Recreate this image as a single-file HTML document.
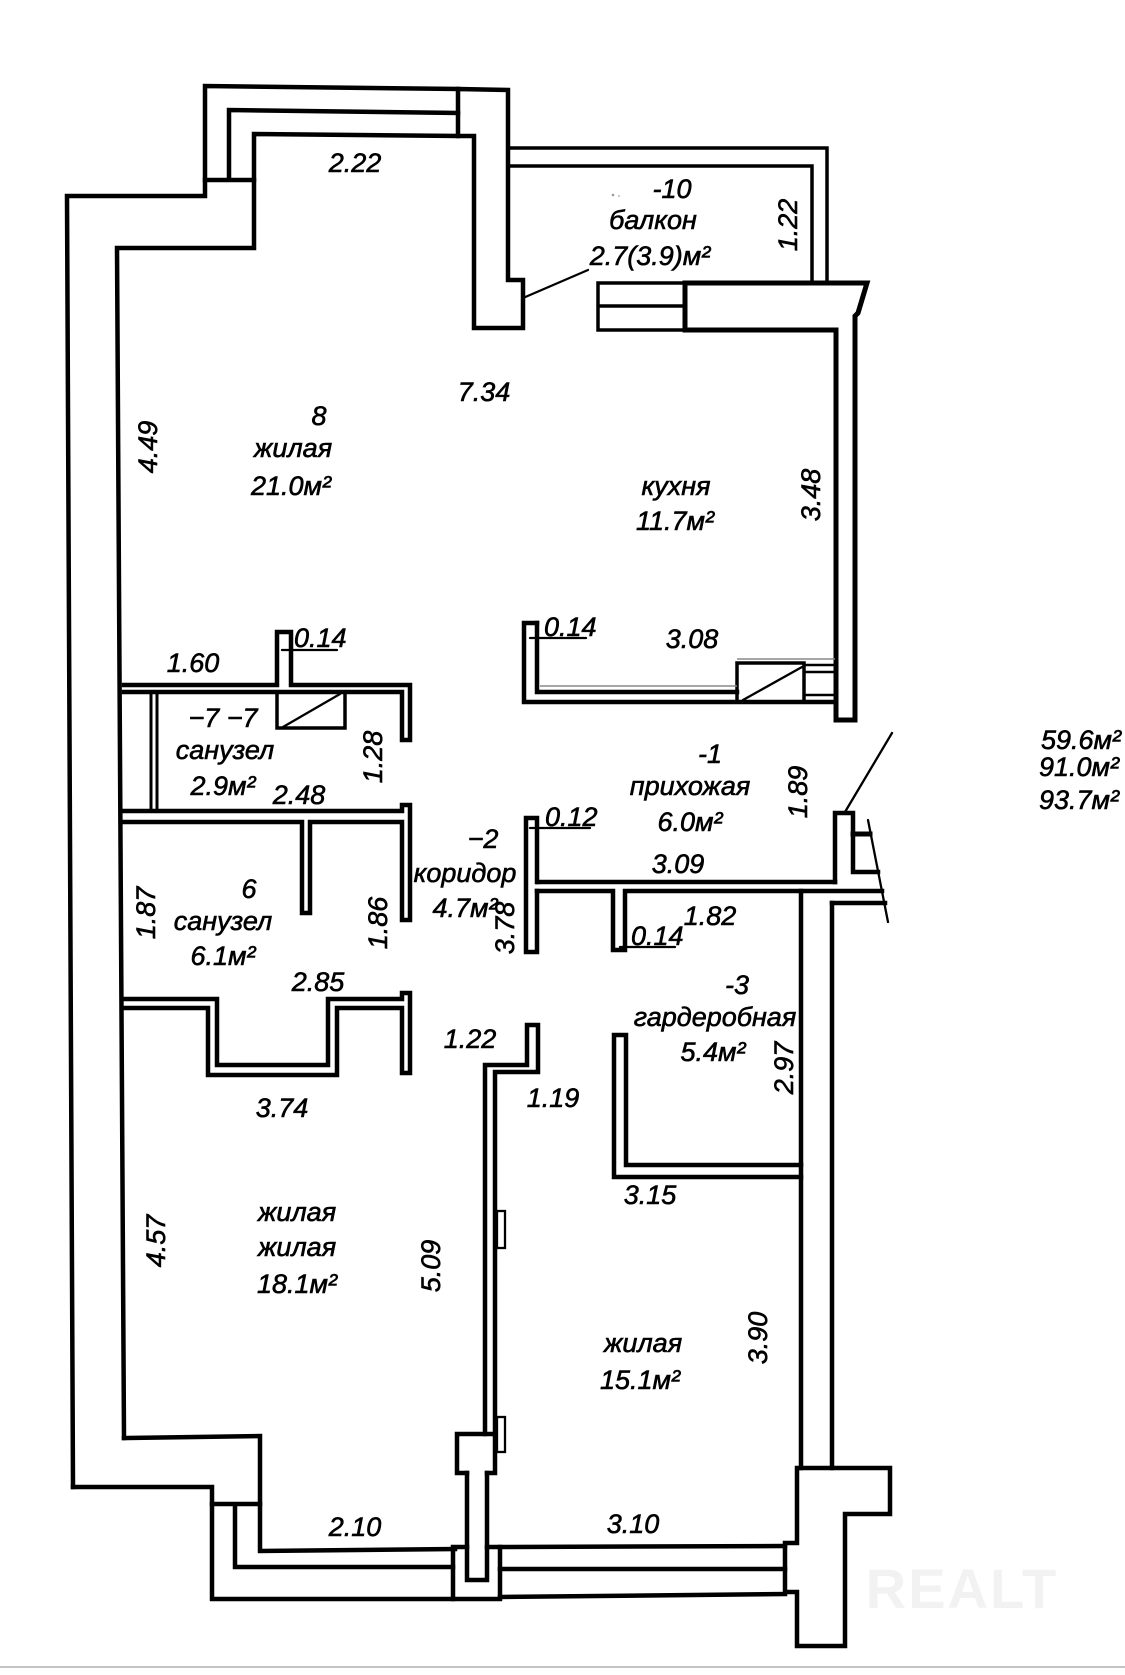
<!DOCTYPE html>
<html><head><meta charset="utf-8"><style>
html,body{margin:0;padding:0;background:#fff;}
svg{display:block;}
text{font-family:"Liberation Sans","DejaVu Sans",sans-serif;font-style:italic;font-size:27px;fill:#000;stroke:#000;stroke-width:0.6px;}
</style></head><body>
<svg width="1125" height="1675" viewBox="0 0 1125 1675" xmlns="http://www.w3.org/2000/svg">
<rect width="1125" height="1675" fill="#fff"/>
<text x="962" y="1608" text-anchor="middle" style="font-style:normal;font-size:56px;font-weight:bold;fill:#f2f2f2;stroke:none;letter-spacing:2px">REALT</text>
<line x1="0" y1="1667" x2="1125" y2="1667" stroke="#b0b0b0" stroke-width="1.5"/>
<g fill="none" stroke="#000" stroke-width="4.5" stroke-linejoin="miter" stroke-linecap="square">
<path d="M73,1487 L67,196 L205,196 L205,86 L458,89"/>
<path d="M458,89 L508,90 L508,280 L523,280 L523,328 L474,328 L474,136 L458,136 Z"/>
<path d="M205,180 L254,180 M229,180 L229,110 L458,113"/>
<path d="M124,1438 L117,248 L254,248 L254,134 L458,136"/>
<path d="M124,1438 L260,1436 L260,1551 L455,1549"/>
<path d="M73,1487 L212,1487 L212,1599 L453,1599"/>
<path d="M212,1504 L260,1504 M235,1504 L235,1567 L453,1567"/>
<path d="M467,1547 L453,1547 L453,1599 L500,1599 L500,1547 L487,1547"/>
<path d="M467,1473 L467,1580 L487,1580 L487,1473"/>
<path d="M467,1473 L457,1473 L457,1434 L495,1434 L495,1473 L487,1473"/>
<path d="M485,1434 L485,1065 L527,1065 L527,1025 L538,1025 L538,1072 L495,1072 L495,1434"/>
<path d="M500,1547 L785,1546 M500,1569 L785,1569 M500,1597 L785,1594"/>
<path d="M797,1468 L890,1468 L890,1514 L845,1514 L845,1646 L797,1646 L797,1592 L785,1592 L785,1543 L797,1543 Z"/>
<path d="M801,891 L801,1468 M832,903 L832,1468"/>
<path d="M626,1035 L614,1035 L614,1177 L801,1177 M626,1035 L626,1165 L801,1165"/>
<path d="M538,882 L835,882"/>
<path d="M537,891 L613,891 L613,950 L625,950 L625,891 L882,891"/>
<path d="M832,903 L885,903"/>
<path d="M537,882 L537,818 L526,818 L526,952 L537,952 L537,891"/>
<path d="M835,882 L835,813 L853,813 L853,872 L878,872"/>
<path d="M853,834 L870,834" stroke-width="5"/>
<path d="M836,330 L836,720 L855,720 L855,316 L858,313 L867,283 L685,283" stroke-width="5"/>
<path d="M685,330 L836,330 M685,283 L685,330" stroke-width="5"/>
<path d="M598,283 L685,283 L685,330 L598,330 Z M598,306 L685,306" stroke-width="3.5"/>
<path d="M508,148 L827,148 L827,282 M508,166 L812,166 L812,282" stroke-width="3.5"/>
<path d="M537,623 L524,623 L524,702 L835,702"/>
<path d="M537,623 L537,692 L737,692"/>
<path d="M737,702 L737,663 L804,663 L804,702" stroke-width="3.5"/>
<path d="M804,665 L835,665 M804,672 L835,672 M804,695 L835,695" stroke-width="2.5"/>
<path d="M124,685 L277,685 L277,632 L291,632 L291,685 L410,685 L410,740 L402,740 L402,692 L124,692"/>
<path d="M277,692 L345,692 L345,728 L277,728 Z" stroke-width="3.5"/>
<path d="M151,692 L151,811 M157,692 L157,811" stroke-width="3"/>
<path d="M124,811 L402,811 L402,805 L410,805 L410,920 L402,920 L402,822 L310,822 L310,913 L302,913 L302,822 L124,822"/>
<path d="M124,999 L217,999 L217,1065 L328,1065 L328,999 L402,999 L402,993 L410,993 L410,1073 L402,1073 L402,1008 L337,1008 L337,1075 L208,1075 L208,1008 L124,1008"/>
</g>
<g fill="none" stroke="#000" stroke-width="2.3" stroke-linecap="round">
<path d="M868,820 L888,922"/>
<path d="M845,812 L892,733"/>
<path d="M523,298 L588,270"/>
<path d="M743,700 L802,667"/>
<path d="M283,727 L340,694"/>
<path d="M282,650 L337,650 M530,638 L586,638 M530,828 L590,828 M620,947 L675,947"/>
<rect x="497" y="1211" width="8" height="37"/>
<rect x="497" y="1417" width="8" height="35"/>
</g>
<g fill="none" stroke="#888" stroke-width="1.5">
<path d="M737,659 L835,659 M540,686 L737,686"/>
</g>
<circle cx="613" cy="195" r="1.3" fill="#999"/>
<circle cx="619" cy="196" r="1" fill="#bbb"/>
<g text-anchor="middle">
<text x="355" y="172">2.22</text>
<text x="672" y="198">-10</text>
<text x="653" y="229">балкон</text>
<text x="650" y="265">2.7(3.9)м²</text>
<text x="484" y="401">7.34</text>
<text x="319" y="425">8</text>
<text x="293" y="457">жилая</text>
<text x="291" y="495">21.0м²</text>
<text x="676" y="495">кухня</text>
<text x="675" y="530">11.7м²</text>
<text x="193" y="672">1.60</text>
<text x="692" y="648">3.08</text>
<text x="223" y="727">−7 −7</text>
<text x="225" y="759">санузел</text>
<text x="223" y="795">2.9м²</text>
<text x="299" y="804">2.48</text>
<text x="710" y="763">-1</text>
<text x="690" y="795">прихожая</text>
<text x="690" y="831">6.0м²</text>
<text x="483" y="848">−2</text>
<text x="465" y="882">коридор</text>
<text x="465" y="917">4.7м²</text>
<text x="678" y="873">3.09</text>
<text x="710" y="925">1.82</text>
<text x="249" y="898">6</text>
<text x="223" y="930">санузел</text>
<text x="223" y="965">6.1м²</text>
<text x="318" y="991">2.85</text>
<text x="470" y="1048">1.22</text>
<text x="737" y="994">-3</text>
<text x="715" y="1026">гардеробная</text>
<text x="713" y="1061">5.4м²</text>
<text x="553" y="1107">1.19</text>
<text x="282" y="1117">3.74</text>
<text x="650" y="1204">3.15</text>
<text x="297" y="1221">жилая</text>
<text x="297" y="1256">жилая</text>
<text x="297" y="1293">18.1м²</text>
<text x="643" y="1352">жилая</text>
<text x="640" y="1389">15.1м²</text>
<text x="355" y="1536">2.10</text>
<text x="633" y="1533">3.10</text>
</g>
<g text-anchor="start">
<text x="294" y="647">0.14</text>
<text x="544" y="636">0.14</text>
<text x="545" y="826">0.12</text>
<text x="631" y="945">0.14</text>
</g>
<g text-anchor="end">
<text x="1121" y="749">59.6м²</text>
<text x="1119" y="776">91.0м²</text>
<text x="1119" y="809">93.7м²</text>
</g>
<g text-anchor="middle">
<text transform="translate(787,225) rotate(-90)" y="10">1.22</text>
<text transform="translate(147,447) rotate(-90)" y="10">4.49</text>
<text transform="translate(810,495) rotate(-90)" y="10">3.48</text>
<text transform="translate(372,757) rotate(-90)" y="10">1.28</text>
<text transform="translate(797,792) rotate(-90)" y="10">1.89</text>
<text transform="translate(504,928) rotate(-90)" y="10">3.78</text>
<text transform="translate(145,913) rotate(-90)" y="10">1.87</text>
<text transform="translate(377,923) rotate(-90)" y="10">1.86</text>
<text transform="translate(783,1068) rotate(-90)" y="10">2.97</text>
<text transform="translate(155,1241) rotate(-90)" y="10">4.57</text>
<text transform="translate(430,1266) rotate(-90)" y="10">5.09</text>
<text transform="translate(757,1338) rotate(-90)" y="10">3.90</text>
</g>
</svg>
</body></html>
